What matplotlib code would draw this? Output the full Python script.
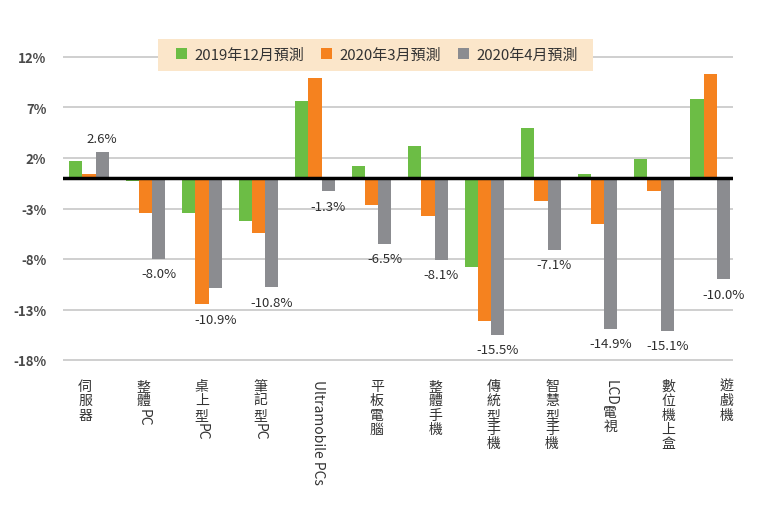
import matplotlib
matplotlib.use("Agg")
import matplotlib.pyplot as plt
import numpy as np
from matplotlib.patches import Rectangle, Patch
from matplotlib.textpath import TextPath
from matplotlib.font_manager import FontProperties

plt.rcParams['font.family'] = ['Noto Sans CJK TC', 'DejaVu Sans']

categories = ["伺服器", "整體PC", "桌上型PC", "筆記型PC", "Ultramobile PCs", "平板電腦",
              "整體手機", "傳統型手機", "智慧型手機", "LCD電視", "數位機上盒", "遊戲機"]
series_names = ["2019年12月預測", "2020年3月預測", "2020年4月預測"]
dec2019 = [1.7, -0.3, -3.4, -4.2, 7.6, 1.2, 3.2, -8.8, 5.0, 0.4, 1.9, 7.8]
mar2020 = [0.4, -3.4, -12.5, -5.4, 9.9, -2.7, -3.7, -14.1, -2.3, -4.5, -1.3, 10.3]
apr2020 = [2.6, -8.0, -10.9, -10.8, -1.3, -6.5, -8.1, -15.5, -7.1, -14.9, -15.1, -10.0]
yticks = [12, 7, 2, -3, -8, -13, -18]

colors = ["#6cbd45", "#f5821f", "#8b8c90"]
W, H = 760, 506
fig = plt.figure(figsize=(W / 100, H / 100), dpi=100)

ylo, yhi = -18.5, 12.5
px_per = (361 - 58) / 30.0
top_px = 58 - (yhi - 12) * px_per
bot_px = 361 + (-18 - ylo) * px_per
ax = fig.add_axes([63 / W, 1 - bot_px / H, (733 - 63) / W, (bot_px - top_px) / H])

x = np.arange(len(categories))
bw = 0.235
series = [dec2019, mar2020, apr2020]
for k, (vals, c) in enumerate(zip(series, colors)):
    ax.bar(x + (k - 1) * bw, vals, width=bw, color=c, zorder=3, linewidth=0)

ax.set_ylim(ylo, yhi)
ax.set_xlim(-0.46, 11.40)
ax.set_yticks(yticks)
ax.set_yticklabels([f"{t}%" for t in yticks], fontsize=9.5, fontweight='bold', color='#4a4a4a')
ax.tick_params(axis='y', length=0, pad=12)
ax.set_xticks([])
for s in ax.spines.values():
    s.set_visible(False)
ax.grid(axis='y', color='#cccccc', linewidth=1.3, zorder=0)
ax.axhline(0, color='black', linewidth=2.5, zorder=4)

# data labels for the April series
for i, v in enumerate(apr2020):
    xi = x[i] + bw
    if v >= 0:
        ax.annotate(f"{v:.1f}%", (xi, v), xytext=(0, 5), textcoords='offset points',
                    ha='center', va='bottom', fontsize=9.5, color='#2e2e2e')
    else:
        low = min(dec2019[i], mar2020[i], apr2020[i])
        ax.annotate(f"{v:.1f}%", (xi, low), xytext=(0, -6), textcoords='offset points',
                    ha='center', va='top', fontsize=9.5, color='#2e2e2e')

# vertical category labels
fs = 10
fp = FontProperties(family='Noto Sans CJK TC', size=fs)
start_pt = -(380 - bot_px) * 0.72
label_x = [-0.07 + i * 1.033 for i in range(len(categories))]


def is_latin(ch):
    return ord(ch) < 0x2E80


for lx, lab in zip(label_x, categories):
    runs = []
    for ch in lab:
        lat = is_latin(ch)
        if runs and runs[-1][0] == lat and lat:
            runs[-1][1] += ch
        else:
            runs.append([lat, ch])
    off = start_pt
    for lat, txt in runs:
        if lat:
            ax.annotate(txt, (lx, 0), xycoords=('data', 'axes fraction'),
                        xytext=(0, off), textcoords='offset points',
                        rotation=-90, ha='center', va='top', fontsize=fs,
                        color='#333333', annotation_clip=False)
            ext = TextPath((0, 0), txt, prop=fp).get_extents()
            off -= ext.width + 1.5
        else:
            ax.annotate(txt, (lx, 0), xycoords=('data', 'axes fraction'),
                        xytext=(0, off), textcoords='offset points',
                        ha='center', va='top', fontsize=fs,
                        color='#333333', annotation_clip=False)
            off -= fs * 1.03

# legend box
fig.patches.append(Rectangle((158 / W, 1 - 72 / H), (593 - 158) / W, 32 / H,
                             transform=fig.transFigure, facecolor='#fbe6ca',
                             edgecolor='none', zorder=0))
handles = [Patch(facecolor=c, edgecolor='none') for c in colors]
fig.legend(handles, series_names, loc='center', bbox_to_anchor=((158 + 593) / 2 / W + 0.002, 1 - 56 / H),
           ncol=3, frameon=False, fontsize=10.8, handlelength=0.75, handleheight=0.75,
           handletextpad=0.5, columnspacing=1.1, labelcolor='#333333')

fig.savefig("out.png", dpi=100)
